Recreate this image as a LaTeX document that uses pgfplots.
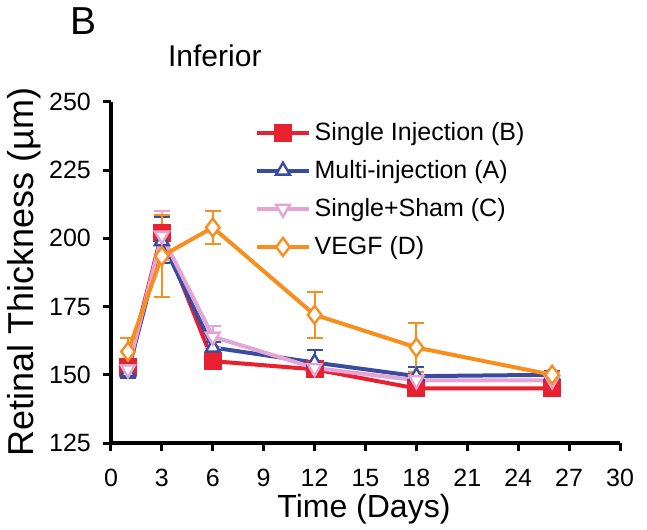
\documentclass[border=0pt]{standalone}
\usepackage{fontspec}
\setmainfont{Liberation Sans}
\usepackage{pgfplots}
\pgfplotsset{compat=1.18}
\definecolor{cred}{RGB}{232,32,48}
\definecolor{cblue}{RGB}{58,76,160}
\definecolor{cpink}{RGB}{228,164,212}
\definecolor{corange}{RGB}{247,142,30}
\begin{document}
\begin{tikzpicture}
\begin{axis}[
  scale only axis, width=254.5pt, height=170.5pt,
  xmin=0, xmax=30, ymin=125, ymax=250,
  xtick={0,3,...,30}, ytick={125,150,...,250},
  axis lines=left, axis line style={-, line width=2pt},
  tick style={line width=1.5pt, black}, tick align=outside, major tick length=4pt,
  /pgf/number format/assume math mode=true,
  tick label style={font=\fontsize{12.5}{14}\selectfont},
  xticklabel style={yshift=-5.5pt},
  yticklabel style={xshift=-2.5pt},
  clip=false,
  legend style={draw=none, fill=none, at={(0.275,0.966)}, anchor=north west,
     font=\fontsize{12.5}{14}\selectfont, row sep=4.5pt, inner sep=2pt},
  legend cell align=left,
  legend image code/.code={\draw[mark repeat=2,mark phase=2,#1] plot coordinates {(0cm,0cm) (0.45cm,0cm) (0.9cm,0cm)};},
  every axis plot/.append style={error bars/y dir=both, error bars/y explicit, error bars/error bar style={line width=1pt}, error bars/error mark options={rotate=90, mark size=4pt, line width=1pt}},
]
\addplot[cred, line width=2pt, mark=square*, mark size=3.5pt, mark options={solid, fill=cred, draw=cred}]
  coordinates {(1,153) +- (0,2.5) (3,202) +- (0,3) (6,155) +- (0,1.5) (12,152) +- (0,1.5) (18,145) +- (0,1) (26,145) +- (0,1)};
\addlegendentry{Single Injection (B)}
\addplot[cblue, line width=2pt, mark=triangle*, mark size=4pt, mark options={solid, fill=white, draw=cblue, line width=1.2pt}]
  coordinates {(1,151) +- (0,2) (3,199) += (0,9) -= (0,8) (6,160) +- (0,2) (12,154.5) +- (0,4.5) (18,149.5) +- (0,3.5) (26,150) +- (0,1.5)};
\addlegendentry{Multi-injection (A)}
\addplot[cpink, line width=2pt, mark=triangle*, mark size=4pt, mark options={solid, fill=white, draw=cpink, line width=1.2pt, rotate=180}]
  coordinates {(1,152) +- (0,2) (3,201) +- (0,9) (6,164) +- (0,4) (12,152.5) +- (0,2) (18,148) +- (0,2) (26,148) +- (0,1)};
\addlegendentry{Single+Sham (C)}
\addplot[corange, line width=2pt, mark=diamond*, mark size=4.5pt, mark options={solid, fill=white, draw=corange, line width=1.2pt}]
  coordinates {(1,158.5) +- (0,5) (3,193.5) +- (0,15) (6,204) +- (0,6) (12,172) +- (0,8.5) (18,160) +- (0,9) (26,150) +- (0,1)};
\addlegendentry{VEGF (D)}
\node[font=\fontsize{19.5}{20}\selectfont] at (rel axis cs:-0.053,1.237) {B};
\node[font=\fontsize{15}{16}\selectfont] at (rel axis cs:0.204,1.135) {Inferior};
\node[font=\fontsize{18}{20}\selectfont, rotate=90] at (rel axis cs:-0.171,0.501) {Retinal Thickness (µm)};
\node[font=\fontsize{16}{18}\selectfont] at (rel axis cs:0.497,-0.194) {Time (Days)};
\coordinate (bbl) at (rel axis cs:-0.218,-0.255);
\coordinate (btr) at (rel axis cs:1.053,1.299);
\end{axis}
\pgfresetboundingbox
\useasboundingbox (bbl) rectangle (btr);
\end{tikzpicture}
\end{document}
